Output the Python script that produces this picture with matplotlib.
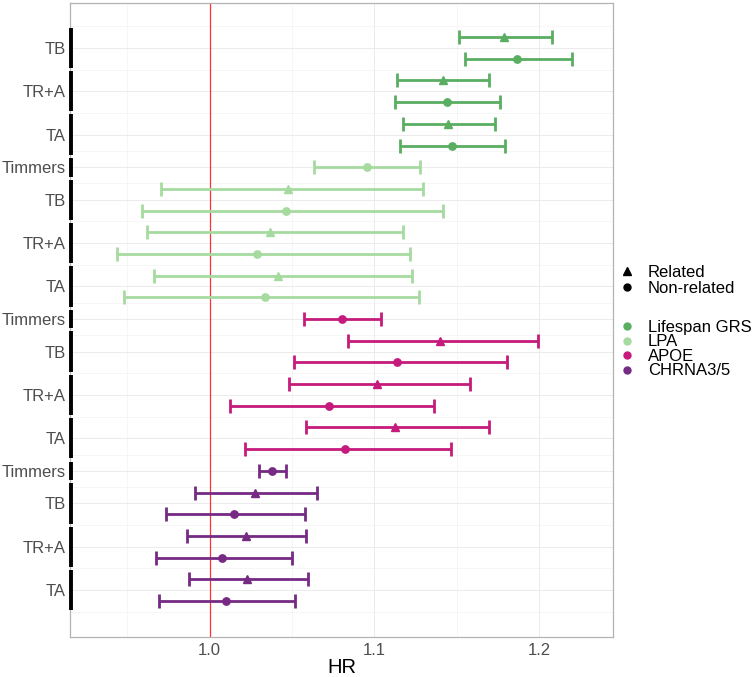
import numpy as np
import matplotlib
matplotlib.use('Agg')
from matplotlib import pyplot as plt
from matplotlib.lines import Line2D
import matplotlib.transforms as mtransforms

plt.rcParams['font.family'] = ['Liberation Sans', 'DejaVu Sans']

# data, one entry per row from top to bottom
row_gene = ['Lifespan GRS'] * 6 + ['LPA'] * 7 + ['APOE'] * 7 + ['CHRNA3/5'] * 7
row_method = ['TB', 'TB', 'TR+A', 'TR+A', 'TA', 'TA'] + \
             ['Timmers', 'TB', 'TB', 'TR+A', 'TR+A', 'TA', 'TA'] * 3
row_related = [True, False] * 3 + [False] + [True, False] * 3 + \
              [False] + [True, False] * 3 + [False] + [True, False] * 3
hr = [1.1788, 1.1868, 1.1414, 1.1438, 1.1448, 1.1470,
      1.0953, 1.0473, 1.0461, 1.0368, 1.0287, 1.0416, 1.0333,
      1.0800, 1.1400, 1.1135, 1.1018, 1.0723, 1.1123, 1.0822,
      1.0378, 1.0273, 1.0147, 1.0218, 1.0077, 1.0226, 1.0097]
lo = [1.1511, 1.1547, 1.1138, 1.1123, 1.1174, 1.1153,
      1.0636, 0.9707, 0.9590, 0.9620, 0.9438, 0.9662, 0.9481,
      1.0572, 1.0840, 1.0509, 1.0481, 1.0125, 1.0582, 1.0216,
      1.0297, 0.9909, 0.9735, 0.9861, 0.9671, 0.9873, 0.9691]
hi = [1.2077, 1.2202, 1.1693, 1.1762, 1.1729, 1.1794,
      1.1279, 1.1297, 1.1414, 1.1171, 1.1216, 1.1226, 1.1268,
      1.1040, 1.1994, 1.1804, 1.1582, 1.1364, 1.1693, 1.1465,
      1.0461, 1.0650, 1.0576, 1.0586, 1.0499, 1.0597, 1.0519]

genes = ['Lifespan GRS', 'LPA', 'APOE', 'CHRNA3/5']
gene_colors = {'Lifespan GRS': '#5AAE61', 'LPA': '#A6DBA0',
               'APOE': '#C51B7D', 'CHRNA3/5': '#762A83'}

fig = plt.figure(figsize=(7.54, 6.77), dpi=100)
ax = fig.add_axes([70 / 754, 1 - 637 / 677, 543 / 754, 634 / 677])

ypos = np.arange(len(hr))

# groups of consecutive rows (gene + method) -> y tick labels
groups = []
for i in range(len(hr)):
    key = (row_gene[i], row_method[i])
    if groups and groups[-1][0] == key:
        groups[-1][1].append(i)
    else:
        groups.append([key, [i]])
tick_pos = [np.mean(g[1]) for g in groups]
tick_lab = [g[0][1] for g in groups]
minor_pos = [tick_pos[0] - 1] + [(a + b) / 2 for a, b in zip(tick_pos[:-1], tick_pos[1:])] + [tick_pos[-1] + 1]

ax.set_yticks(tick_pos)
ax.set_yticklabels(tick_lab)
ax.set_yticks(minor_pos, minor=True)
ax.set_xticks([1.0, 1.1, 1.2])
ax.set_xticklabels(['1.0', '1.1', '1.2'])
ax.set_xticks([0.95, 1.05, 1.15], minor=True)
ax.grid(True, which='major', color='#E8E8E8', lw=0.6)
ax.grid(True, which='minor', color='#F0F0F0', lw=0.4)
ax.set_axisbelow(True)

ax.axvline(1.0, color='#FF3030', lw=0.9, zorder=1)

for i in range(len(hr)):
    c = gene_colors[row_gene[i]]
    if row_related[i]:
        m, ms = '^', 6.2
    else:
        m, ms = 'o', 5.3
    ax.errorbar(hr[i], ypos[i], xerr=[[hr[i] - lo[i]], [hi[i] - hr[i]]],
                fmt=m, color=c, ecolor=c, elinewidth=2.0, capsize=4.8, capthick=2.0,
                markersize=ms, zorder=3)

# black bars on the left marking each group
trans = mtransforms.blended_transform_factory(ax.transAxes, ax.transData)
for key, rows in groups:
    ax.plot([0.001, 0.001], [rows[0] - 0.43, rows[-1] + 0.43], color='black',
            lw=2.8, solid_capstyle='butt', transform=trans, clip_on=False, zorder=5)

ax.set_xlim(0.9152, 1.2448)
ax.set_ylim(27.66, -1.57)

for s in ax.spines.values():
    s.set_color('#B3B3B3')
    s.set_linewidth(0.9)
ax.tick_params(which='both', length=0)
ax.tick_params(axis='y', pad=3, labelsize=12, labelcolor='#4D4D4D')
ax.tick_params(axis='x', pad=4, labelsize=12, labelcolor='#4D4D4D')
ax.set_xlabel('HR', fontsize=14.5, labelpad=0)

# legends
h1 = [Line2D([], [], ls='none', marker='^', color='black', markersize=6),
      Line2D([], [], ls='none', marker='o', color='black', markersize=5)]
leg1 = fig.legend(h1, ['Related', 'Non-related'], loc='upper left',
                  bbox_to_anchor=(610.3 / 754, 1 - 256.5 / 677), frameon=False,
                  fontsize=12, borderpad=0, handlelength=1.0, handletextpad=0.76,
                  labelspacing=0.07)
h2 = [Line2D([], [], ls='none', marker='o', color=gene_colors[g], markersize=5) for g in genes]
leg2 = fig.legend(h2, genes, loc='upper left',
                  bbox_to_anchor=(610.3 / 754, 1 - 311.5 / 677), frameon=False,
                  fontsize=12, borderpad=0, handlelength=1.0, handletextpad=0.76,
                  labelspacing=-0.03)

fig.savefig('out.png', dpi=100)
